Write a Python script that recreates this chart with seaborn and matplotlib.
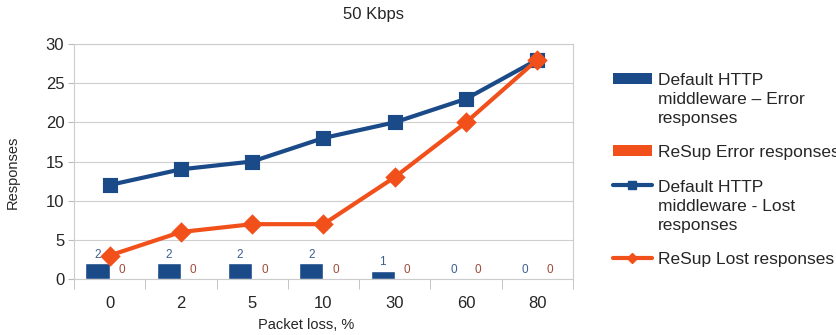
import matplotlib
matplotlib.use("Agg")
import matplotlib.pyplot as plt
import seaborn as sns
import pandas as pd
from matplotlib.patches import Patch
from matplotlib.lines import Line2D

categories = ["0", "2", "5", "10", "30", "60", "80"]
default_error = [2, 2, 2, 2, 1, 0, 0]
resup_error = [0, 0, 0, 0, 0, 0, 0]
default_lost = [12, 14, 15, 18, 20, 23, 28]
resup_lost = [3, 6, 7, 7, 13, 20, 28]
series_names = [
    "Default HTTP\nmiddleware \u2013 Error\nresponses",
    "ReSup Error responses",
    "Default HTTP\nmiddleware - Lost\nresponses",
    "ReSup Lost responses",
]
BLUE = "#1a4a88"
ORANGE = "#f2501a"

sns.set_style("white")
plt.rcParams["font.family"] = ["Liberation Sans", "DejaVu Sans"]

bars = pd.DataFrame({
    "cat": categories * 2,
    "val": default_error + resup_error,
    "series": [series_names[0]] * 7 + [series_names[1]] * 7,
})
lines = pd.DataFrame({
    "cat": categories * 2,
    "val": default_lost + resup_lost,
    "series": [series_names[2]] * 7 + [series_names[3]] * 7,
})

fig = plt.figure(figsize=(8.37, 3.35), dpi=100)
ax = fig.add_axes([74 / 837, 1 - 279 / 335, (573 - 74) / 837, (279 - 44) / 335])

sns.barplot(data=bars, x="cat", y="val", hue="series", order=categories,
            palette=[BLUE, ORANGE], width=0.68, ax=ax, legend=False,
            saturation=1, errorbar=None)
sns.pointplot(data=lines, x="cat", y="val", hue="series", order=categories,
              palette=[BLUE, ORANGE], markers=["s", "D"], markersize=8,
              linestyles=["-", "-"], linewidth=3, dodge=False, ax=ax,
              legend=False, errorbar=None)

label_colors = ["#3d5f8f", "#a04a3c"]
for cont, c in zip(ax.containers[:2], label_colors):
    ax.bar_label(cont, fmt="%d", color=c, fontsize=8.5, padding=2)

ax.set_ylim(0, 30)
ax.set_xlim(-0.5, 6.5)
ax.set_yticks(range(0, 31, 5))
ax.grid(axis="y", color="#cfcfcf", linewidth=0.8)
ax.set_axisbelow(True)
ax.tick_params(axis="y", labelsize=12, length=4, color="#bbbbbb", left=True, pad=3)
ax.tick_params(axis="x", which="major", labelsize=12, length=0, pad=12)
ax.set_xticks([i - 0.5 for i in range(8)], minor=True)
ax.tick_params(axis="x", which="minor", length=7, color="#bbbbbb", bottom=True)
ax.set_xlabel("")
ax.set_ylabel("")
for s in ["left", "bottom", "right", "top"]:
    ax.spines[s].set_color("#cccccc")
    ax.spines[s].set_linewidth(0.8)
ax.spines["top"].set_visible(True)

fig.text(374 / 837, 1 - 14 / 335, "50 Kbps", ha="center", va="center", fontsize=12)
fig.text(306 / 837, 1 - 318 / 335, "Packet loss, %", ha="center", va="top", fontsize=10.5)
fig.text(13 / 837, 1 - 172 / 335, "Responses", ha="center", va="center",
         rotation=90, fontsize=10.5)

handles = [
    Patch(facecolor=BLUE, edgecolor="none"),
    Patch(facecolor=ORANGE, edgecolor="none"),
    Line2D([], [], color=BLUE, marker="s", markersize=6, linewidth=3),
    Line2D([], [], color=ORANGE, marker="D", markersize=5, linewidth=3),
]
leg = fig.legend(handles, series_names, loc="upper left",
                 bbox_to_anchor=(606 / 837, 1 - 66 / 335), frameon=False,
                 fontsize=12.5, handlelength=2.25, handletextpad=0.35,
                 handleheight=0.6, labelspacing=1.1, borderaxespad=0)
for t in leg.get_texts():
    t.set_linespacing(1.35)
try:
    for col in leg._legend_handle_box.get_children():
        for item in col.get_children():
            item.align = "top"
except Exception:
    pass

fig.savefig("out.png", dpi=100)
